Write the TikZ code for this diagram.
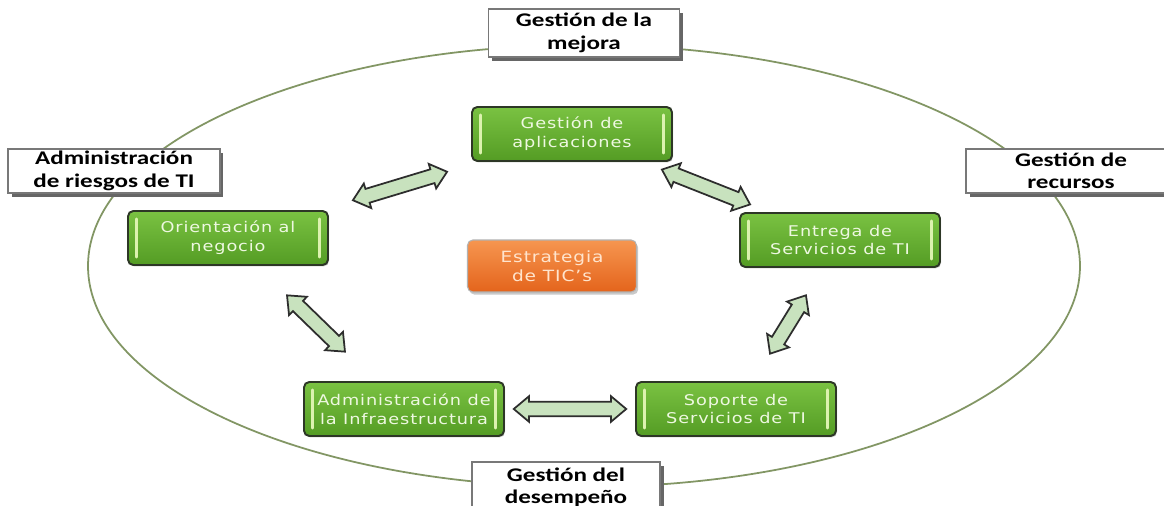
\documentclass[tikz,border=0pt]{standalone}
\usepackage{fontspec}
\usetikzlibrary{shapes.arrows,shadows,calc}
\newfontfamily\lblfont[FakeStretch=1.3]{Carlito}
\newfontfamily\boxfont[FakeStretch=1.2,LetterSpace=6]{DejaVu Sans}
\definecolor{gtop}{RGB}{122,194,66}
\definecolor{gbot}{RGB}{84,156,36}
\definecolor{gborder}{RGB}{45,55,38}
\definecolor{gbar}{RGB}{220,242,175}
\definecolor{gtext}{RGB}{238,248,225}
\definecolor{otop}{RGB}{246,150,80}
\definecolor{obot}{RGB}{228,100,28}
\definecolor{otext}{RGB}{255,228,205}
\definecolor{arrfill}{RGB}{200,226,190}
\definecolor{arrborder}{RGB}{45,45,45}
\definecolor{ellcol}{RGB}{130,150,100}
\definecolor{lblgray}{RGB}{120,120,120}
\begin{document}
\begin{tikzpicture}[x=0.02cm,y=-0.02cm,
  procbox/.style={rectangle, rounded corners=3pt, draw=gborder, line width=1.1pt,
    top color=gtop, bottom color=gbot, minimum width=4cm, minimum height=1.08cm,
    inner sep=0pt, align=center, text=gtext,
    font=\boxfont\fontsize{8.4}{10.8}\selectfont,
    drop shadow={shadow xshift=0.6pt, shadow yshift=-0.8pt, fill=black!40, opacity=0.5},
    path picture={
      \draw[gbar, line width=1.6pt, line cap=round]
        ([xshift=4.6pt,yshift=-4.5pt]path picture bounding box.north west) --
        ([xshift=4.6pt,yshift=4.5pt]path picture bounding box.south west);
      \draw[gbar, line width=1.6pt, line cap=round]
        ([xshift=-4.6pt,yshift=-4.5pt]path picture bounding box.north east) --
        ([xshift=-4.6pt,yshift=4.5pt]path picture bounding box.south east);
    }},
  orangebox/.style={rectangle, rounded corners=3pt, draw=black!30, line width=0.6pt,
    top color=otop, bottom color=obot, minimum width=3.38cm, minimum height=1.04cm,
    inner sep=0pt, align=center, text=otext,
    font=\boxfont\fontsize{8.8}{11}\selectfont,
    drop shadow={shadow xshift=1pt, shadow yshift=-1.5pt, fill=black!35, opacity=0.6}},
  labelbox/.style={rectangle, draw=lblgray, line width=1pt, fill=white,
    drop shadow={shadow xshift=2pt, shadow yshift=-2pt, fill=black!60, opacity=1},
    inner sep=0pt, align=center,
    font=\lblfont\bfseries\fontsize{11}{12.8}\selectfont},
  fatarrow/.style={double arrow, draw=arrborder, fill=arrfill, line width=1pt,
    inner xsep=0pt, inner ysep=3.6pt, double arrow head extend=3.2pt,
    double arrow tip angle=80, minimum height=#1}
]
\clip (0,0) rectangle (1164,506);
\fill[white] (0,0) rectangle (1164,506);

% big ellipse
\draw[ellcol, line width=1pt] (584,266) ellipse [x radius=496, y radius=221];

% process boxes
\node[procbox] (app) at (572,134) {Gestión de\\aplicaciones};
\node[procbox] (neg) at (228,238) {Orientación al\\negocio};
\node[procbox] (ent) at (840,240) {Entrega de\\Servicios de TI};
\node[procbox] (inf) at (404,409) {Administración de\\la Infraestructura};
\node[procbox] (sop) at (736,409) {Soporte de\\Servicios de TI};
\node[orangebox] (tic) at (552,266) {Estrategia\\de TIC’s};

% double arrows
\path (neg.center) -- node[fatarrow=56pt, sloped] (a1) {} (app.center);
\path (app.center) -- node[fatarrow=54pt, sloped] (a2) {} (ent.center);
\path (neg.center) -- node[fatarrow=46pt, sloped] (a3) {} (inf.center);
\path (ent.center) -- node[fatarrow=39pt, sloped] (a4) {} (sop.center);
\path (inf.center) -- node[fatarrow=64pt, sloped] (a5) {} (sop.center);

% label boxes
\node[labelbox, minimum width=3.82cm, minimum height=0.96cm] (mej) at (584,33) {Gestión de la\\mejora};
\node[labelbox, minimum width=4.24cm, minimum height=0.88cm] (rie) at (114,171) {Administración\\de riesgos de TI};
\node[labelbox, minimum width=4.2cm, minimum height=0.88cm] (rec) at (1071,171) {Gestión de\\recursos};
\node[labelbox, minimum width=3.76cm, minimum height=1.0cm] (des) at (566,487) {Gestión del\\desempeño};
\end{tikzpicture}
\end{document}
